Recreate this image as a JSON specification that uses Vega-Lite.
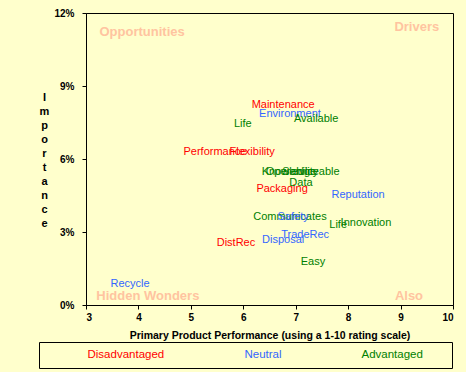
{
  "$schema": "https://vega.github.io/schema/vega-lite/v6.json",
  "autosize": {"type": "none"},
  "width": 367,
  "height": 292,
  "padding": {"left": 86, "top": 13, "right": 13, "bottom": 67},
  "background": "#FFFFCC",
  "config": {
    "view": {"stroke": "black", "strokeWidth": 1, "fill": "#FFFFCC"},
    "font": "Liberation Sans"
  },
  "datasets": {
    "points": [
      {"label": "Maintenance", "x": 6.76, "y": 0.0822, "cat": "Disadvantaged"},
      {"label": "Environment", "x": 6.89, "y": 0.0785, "cat": "Neutral"},
      {"label": "Available", "x": 7.39, "y": 0.0764, "cat": "Advantaged"},
      {"label": "Life", "x": 5.99, "y": 0.0744, "cat": "Advantaged"},
      {"label": "Performance", "x": 5.46, "y": 0.0629, "cat": "Disadvantaged"},
      {"label": "Flexibility", "x": 6.17, "y": 0.0629, "cat": "Disadvantaged"},
      {"label": "Knowledge", "x": 6.87, "y": 0.0547, "cat": "Advantaged"},
      {"label": "Operability", "x": 6.93, "y": 0.0547, "cat": "Advantaged"},
      {"label": "Serviceable", "x": 7.29, "y": 0.0547, "cat": "Advantaged"},
      {"label": "Data", "x": 7.10, "y": 0.0501, "cat": "Advantaged"},
      {"label": "Packaging", "x": 6.74, "y": 0.0477, "cat": "Disadvantaged"},
      {"label": "Reputation", "x": 8.19, "y": 0.0452, "cat": "Neutral"},
      {"label": "Communicates", "x": 6.89, "y": 0.0362, "cat": "Advantaged"},
      {"label": "Safety", "x": 6.95, "y": 0.0362, "cat": "Neutral"},
      {"label": "Life", "x": 7.81, "y": 0.0329, "cat": "Advantaged"},
      {"label": "Innovation", "x": 8.34, "y": 0.0337, "cat": "Advantaged"},
      {"label": "TradeRec", "x": 7.18, "y": 0.0288, "cat": "Neutral"},
      {"label": "Disposal", "x": 6.76, "y": 0.0267, "cat": "Neutral"},
      {"label": "DistRec", "x": 5.86, "y": 0.0255, "cat": "Disadvantaged"},
      {"label": "Easy", "x": 7.33, "y": 0.0177, "cat": "Advantaged"},
      {"label": "Recycle", "x": 3.84, "y": 0.0086, "cat": "Neutral"}
    ],
    "quadrants": [
      {"q": "Opportunities", "x": 4.07, "y": 0.1122},
      {"q": "Drivers", "x": 9.31, "y": 0.1143},
      {"q": "Hidden Wonders", "x": 4.18, "y": 0.0037},
      {"q": "Also", "x": 9.16, "y": 0.0037}
    ]
  },
  "layer": [
    {
      "mark": {"type": "rule", "color": "#FFCC99", "strokeWidth": 1},
      "encoding": {"x": {"datum": 6.8, "type": "quantitative", "scale": {"domain": [3, 10]}}}
    },
    {
      "mark": {"type": "rule", "color": "#FFCC99", "strokeWidth": 1},
      "encoding": {"y": {"datum": 0.0485, "type": "quantitative", "scale": {"domain": [0, 0.12]}}}
    },
    {
      "data": {"name": "quadrants"},
      "mark": {"type": "text", "fontSize": 13, "fontWeight": "bold", "color": "#FFC4A0", "align": "center", "baseline": "middle"},
      "encoding": {
        "x": {"field": "x", "type": "quantitative"},
        "y": {"field": "y", "type": "quantitative"},
        "text": {"field": "q"}
      }
    },
    {
      "data": {"name": "points"},
      "mark": {"type": "text", "fontSize": 11, "align": "center", "baseline": "middle"},
      "encoding": {
        "x": {
          "field": "x", "type": "quantitative",
          "scale": {"domain": [3, 10], "nice": false, "zero": false},
          "axis": {
            "title": "Primary Product Performance (using a 1-10 rating scale)",
            "values": [3, 4, 5, 6, 7, 8, 9, 10],
            "format": "d",
            "grid": false,
            "domainColor": "black", "tickColor": "black", "tickSize": 4,
            "labelFontSize": 10, "labelFontWeight": "bold", "labelColor": "black", "labelPadding": 3,
            "titleFontSize": 10.5, "titleFontWeight": "bold", "titleColor": "black",
            "titleY": 30, "titleBaseline": "middle"
          }
        },
        "y": {
          "field": "y", "type": "quantitative",
          "scale": {"domain": [0, 0.12], "nice": false},
          "axis": {
            "title": ["I", "m", "p", "o", "r", "t", "a", "n", "c", "e"],
            "titleAngle": 0, "titleAlign": "center", "titleBaseline": "top",
            "titleX": -42, "titleY": 78, "titleLineHeight": 14,
            "titleFontSize": 11, "titleFontWeight": "bold", "titleColor": "black",
            "values": [0, 0.03, 0.06, 0.09, 0.12],
            "format": ".0%",
            "grid": false,
            "domainColor": "black", "tickColor": "black", "tickSize": 4,
            "labelFontSize": 10, "labelFontWeight": "bold", "labelColor": "black", "labelPadding": 8
          }
        },
        "text": {"field": "label"},
        "color": {
          "field": "cat", "type": "nominal",
          "scale": {"domain": ["Disadvantaged", "Neutral", "Advantaged"], "range": ["#FF0000", "#3366FF", "#008000"]},
          "legend": {
            "orient": "none", "legendX": -47, "legendY": 329,
            "direction": "horizontal",
            "columnPadding": 38,
            "padding": 7,
            "labelOffset": 30,
            "labelFontSize": 11.5,
            "labelFont": "Liberation Sans",
            "symbolSize": 0, "symbolStrokeWidth": 0, "symbolOpacity": 0,
            "strokeColor": "black", "fillColor": "#FFFFCC", "cornerRadius": 0,
            "title": " ", "titleOrient": "right", "titlePadding": 22,
            "encode": {"labels": {"update": {"fill": {"scale": "color", "field": "value"}}}}
          }
        }
      }
    }
  ]
}
